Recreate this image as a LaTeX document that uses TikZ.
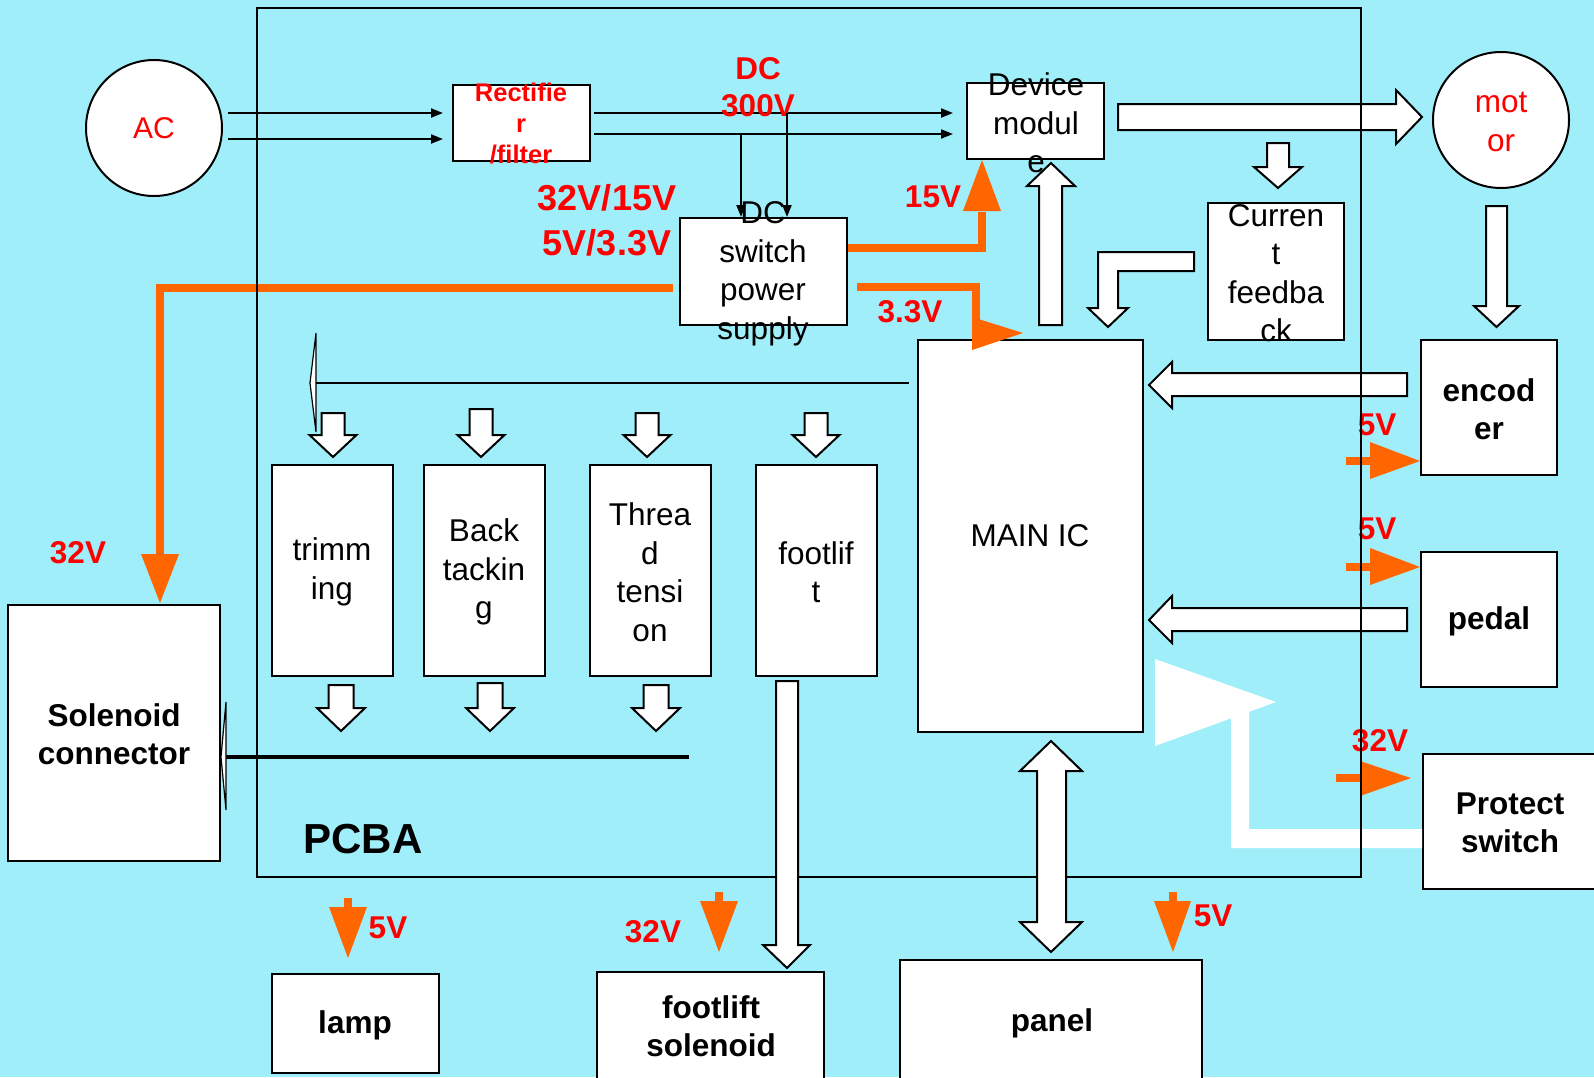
\documentclass[tikz,border=0pt]{standalone}
\usepackage{fontspec}
\setmainfont{Liberation Sans}
\usetikzlibrary{arrows.meta}
\definecolor{bgc}{RGB}{161,238,251}
\definecolor{orng}{RGB}{255,102,0}
\definecolor{redt}{RGB}{255,0,0}
\tikzset{
 box/.style={draw=black, line width=2pt, fill=white, rectangle, inner sep=0pt},
 txt/.style={font=\fontsize{31.5}{38.5}\selectfont, align=center, inner sep=0pt, text=black},
 btxt/.style={txt, font=\fontsize{31.5}{38.5}\selectfont\bfseries},
 vlab/.style={btxt, text=redt},
 blk/.style={draw=black, line width=2pt, fill=white, line join=miter},
 oline/.style={draw=orng, line width=8pt, line join=miter},
 thinarr/.style={draw=black, line width=2pt, -{Triangle[length=12pt,width=9pt]}},
 sliver/.style={draw=black, line width=1.2pt, fill=white},
}
\begin{document}
\begin{tikzpicture}[x=1pt,y=-1pt]
\fill[bgc] (0,0) rectangle (1594,1077);
\useasboundingbox (0,0) rectangle (1594,1077);

% AC source and rectifier
\node[circle, draw, line width=2pt, fill=white, minimum size=136pt, inner sep=0pt] (ac) at (154,128) {};
\node[txt, text=redt, font=\fontsize{30}{36}\selectfont] (act) at (ac) {AC};
\node[box, minimum width=137pt, minimum height=76pt] (rect) at (521.5,123) {};
\node[txt, text=redt, font=\fontsize{25.5}{31}\selectfont\bfseries] (rectt) at (521,124) {Rectifie\\r\\/filter};
\draw[thinarr, shorten <=5pt, shorten >=9pt] (ac.east |- 0,113) -- (rect.west |- 0,113);
\draw[thinarr, shorten <=5pt, shorten >=9pt] (ac.east |- 0,139) -- (rect.west |- 0,139);

% device module
\node[box, minimum width=137pt, minimum height=76pt] (dev) at (1035.5,121) {};
\draw[thinarr, shorten <=3pt, shorten >=13pt] (rect.east |- 0,113) -- (dev.west |- 0,113);
\draw[thinarr, shorten <=3pt, shorten >=13pt] (rect.east |- 0,134) -- (dev.west |- 0,134);
\node[vlab, font=\fontsize{31.5}{37}\selectfont\bfseries] (dc300) at (758,87) {DC\\300V};

% DC switch power supply
\node[box, minimum width=167pt, minimum height=107pt] (dcs) at (763.5,271.5) {};
\draw[thinarr] (741,134) -- (dcs.north -| 741,0);
\draw[thinarr] (787,113) -- (dcs.north -| 787,0);
\node[txt] (dcst) at (763,274) {DC\\switch\\power\\supply};
\node[vlab, font=\fontsize{36}{45}\selectfont\bfseries] (volts) at (607,220) {32V/15V\\5V/3.3V};
\node[txt] (devt) at (1036,123) {Device\\modul\\e};

% MAIN IC
\node[box, minimum width=225pt, minimum height=392pt] (main) at (1030.5,536) {};
\node[txt] (maint) at (1030,536) {MAIN IC};
\draw[blk] (1039,325) -- (1039,186) -- (1027,186) -- (1051,163) -- (1075,186) -- (1062,186) -- (1062,325) -- cycle;

% orange supply lines
\draw[oline] (673,288) -- (160,288) -- (160,560);
\fill[orng] (141,554) -- (179,554) -- (160,603) -- cycle;
\draw[oline] (dcs.east |- 0,248) -- (982,248) -- (982,212);
\fill[orng] (963,211) -- (1001,211) -- (982,160) -- cycle;
\node[vlab] (v15) at (933,197) {15V};
\draw[oline] (857,287) -- (976,287) -- (976,345);
\fill[orng] (972,317) -- (1023,333) -- (972,350) -- cycle;
\node[vlab] (v33) at (910,312) {3.3V};

% current feedback
\node[box, minimum width=136pt, minimum height=137pt] (cf) at (1276,271.5) {};
\node[txt] (cft) at (1276,273) {Curren\\t\\feedba\\ck};
\draw[blk] (1267,143) -- (1289,143) -- (1289,167) -- (1302,167) -- (1278,188) -- (1254,167) -- (1267,167) -- cycle;
\draw[blk] (1194,252) -- (1098,252) -- (1098,308) -- (1088,308) -- (1108,327) -- (1128,308) -- (1118,308) -- (1118,271) -- (1194,271) -- cycle;

% motor
\draw[blk] (1118,104) -- (1396,104) -- (1396,90) -- (1422,117) -- (1396,144) -- (1396,130) -- (1118,130) -- cycle;
\node[circle, draw, line width=2pt, fill=white, minimum size=136pt, inner sep=0pt] (motor) at (1501,120) {};
\node[txt, text=redt] (motort) at (1501,122) {mot\\or};
\draw[blk] (1486,206) -- (1507,206) -- (1507,306) -- (1519,306) -- (1496.5,327) -- (1474,306) -- (1486,306) -- cycle;

% encoder, pedal, protect switch
\node[box, minimum width=136pt, minimum height=135pt] (enc) at (1489,407.5) {};
\node[btxt] (enct) at (1489,409) {encod\\er};
\draw[blk] (1407,373) -- (1172,373) -- (1172,362) -- (1149,385) -- (1172,408) -- (1172,396) -- (1407,396) -- cycle;
\node[box, minimum width=136pt, minimum height=135pt] (pedal) at (1489,619.5) {};
\node[btxt] (pedalt) at (1489,621) {pedal};
\draw[blk] (1407,608) -- (1172,608) -- (1172,596) -- (1149,620) -- (1172,643) -- (1172,631) -- (1407,631) -- cycle;
\draw[orng, line width=8pt] (1346,461) -- (1372,461);
\fill[orng] (1370,442) -- (1420,461) -- (1370,479) -- cycle;
\node[vlab] (v5a) at (1377,425) {5V};
\draw[orng, line width=8pt] (1346,567) -- (1372,567);
\fill[orng] (1370,548) -- (1420,567) -- (1370,585) -- cycle;
\node[vlab] (v5b) at (1377,529) {5V};
\node[box, minimum width=177pt, minimum height=135pt] (prot) at (1511.5,821.5) {};
\node[btxt] (prott) at (1510,823) {Protect\\switch};
\draw[orng, line width=8pt] (1336,778) -- (1362,778);
\fill[orng] (1360,761) -- (1411,778) -- (1360,796) -- cycle;
\node[vlab] (v32p) at (1380,741) {32V};
\fill[white] (1422,829) -- (1249,829) -- (1249,705) -- (1231,705) -- (1231,848) -- (1422,848) -- cycle;
\fill[white] (1155,659) -- (1276,702) -- (1155,746) -- cycle;

% four function blocks
\node[box, minimum width=121pt, minimum height=211pt] (trim) at (332.5,570.5) {};
\node[txt] (trimt) at (332,572) {trimm\\ing};
\node[box, minimum width=121pt, minimum height=211pt] (back) at (484.5,570.5) {};
\node[txt] (backt) at (484,572) {Back\\tackin\\g};
\node[box, minimum width=121pt, minimum height=211pt] (thread) at (650.5,570.5) {};
\node[txt] (threadt) at (650,572) {Threa\\d\\tensi\\on};
\node[box, minimum width=121pt, minimum height=211pt] (foot) at (816.5,570.5) {};
\node[txt] (foott) at (816,572) {footlif\\t};
\draw[line width=2pt] (909,383) -- (316,383);
\draw[sliver] (316,333) -- (310,383) -- (316,432) -- cycle;
\foreach \cx/\tp in {333/413,481/409,647/413,816/413}
  \draw[blk] (\cx-11.5,\tp) -- (\cx+11.5,\tp) -- (\cx+11.5,435) -- (\cx+23.5,435) -- (\cx,457) -- (\cx-23.5,435) -- (\cx-11.5,435) -- cycle;
\foreach \cx/\tp in {341/685,490/683,656/685}
  \draw[blk] (\cx-12.5,\tp) -- (\cx+12.5,\tp) -- (\cx+12.5,708) -- (\cx+24,708) -- (\cx,731) -- (\cx-24,708) -- (\cx-12.5,708) -- cycle;
\draw[line width=3.5pt] (689,757) -- (226,757);

% solenoid connector
\node[box, minimum width=212pt, minimum height=256pt] (sol) at (114,733) {};
\node[btxt] (solt) at (114,734) {Solenoid\\connector};
\draw[sliver] (226,702) -- (221,757) -- (226,810) -- cycle;
\node[vlab] (v32s) at (78,553) {32V};

% bottom row
\node[box, minimum width=167pt, minimum height=99pt] (lamp) at (355.5,1023.5) {};
\node[btxt] (lampt) at (355,1025) {lamp};
\draw[orng, line width=8pt] (348,898) -- (348,909);
\fill[orng] (329,907) -- (367,907) -- (348,958) -- cycle;
\node[vlab] (v5l) at (388,928) {5V};
\node[box, minimum width=227pt, minimum height=118pt] (fsol) at (710.5,1031) {};
\node[btxt] (fsolt) at (711,1026) {footlift\\solenoid};
\draw[orng, line width=8pt] (719,892) -- (719,903);
\fill[orng] (700,901) -- (738,901) -- (719,952) -- cycle;
\node[vlab] (v32f) at (653,932) {32V};
\node[box, minimum width=302pt, minimum height=130pt] (panel) at (1051,1025) {};
\node[btxt] (panelt) at (1052,1023) {panel};
\draw[orng, line width=8pt] (1173,892) -- (1173,903);
\fill[orng] (1154,901) -- (1191,901) -- (1173,952) -- cycle;
\node[vlab] (v5p) at (1213,916) {5V};

% PCBA frame
\node[draw=black, line width=2pt, minimum width=1104pt, minimum height=869pt, inner sep=0pt] (pcba) at (809,442.5) {};
\node[btxt, font=\fontsize{42}{50}\selectfont\bfseries] (pcbat) at (363,839) {PCBA};

% arrows crossing the frame bottom
\draw[blk] (776,681) -- (798,681) -- (798,945) -- (810,945) -- (787,968) -- (763,945) -- (776,945) -- cycle;
\draw[blk] (1051,741) -- (1082,771) -- (1066,771) -- (1066,922) -- (1082,922) -- (1051,952) -- (1020,922) -- (1037,922) -- (1037,771) -- (1020,771) -- cycle;
\end{tikzpicture}
\end{document}
